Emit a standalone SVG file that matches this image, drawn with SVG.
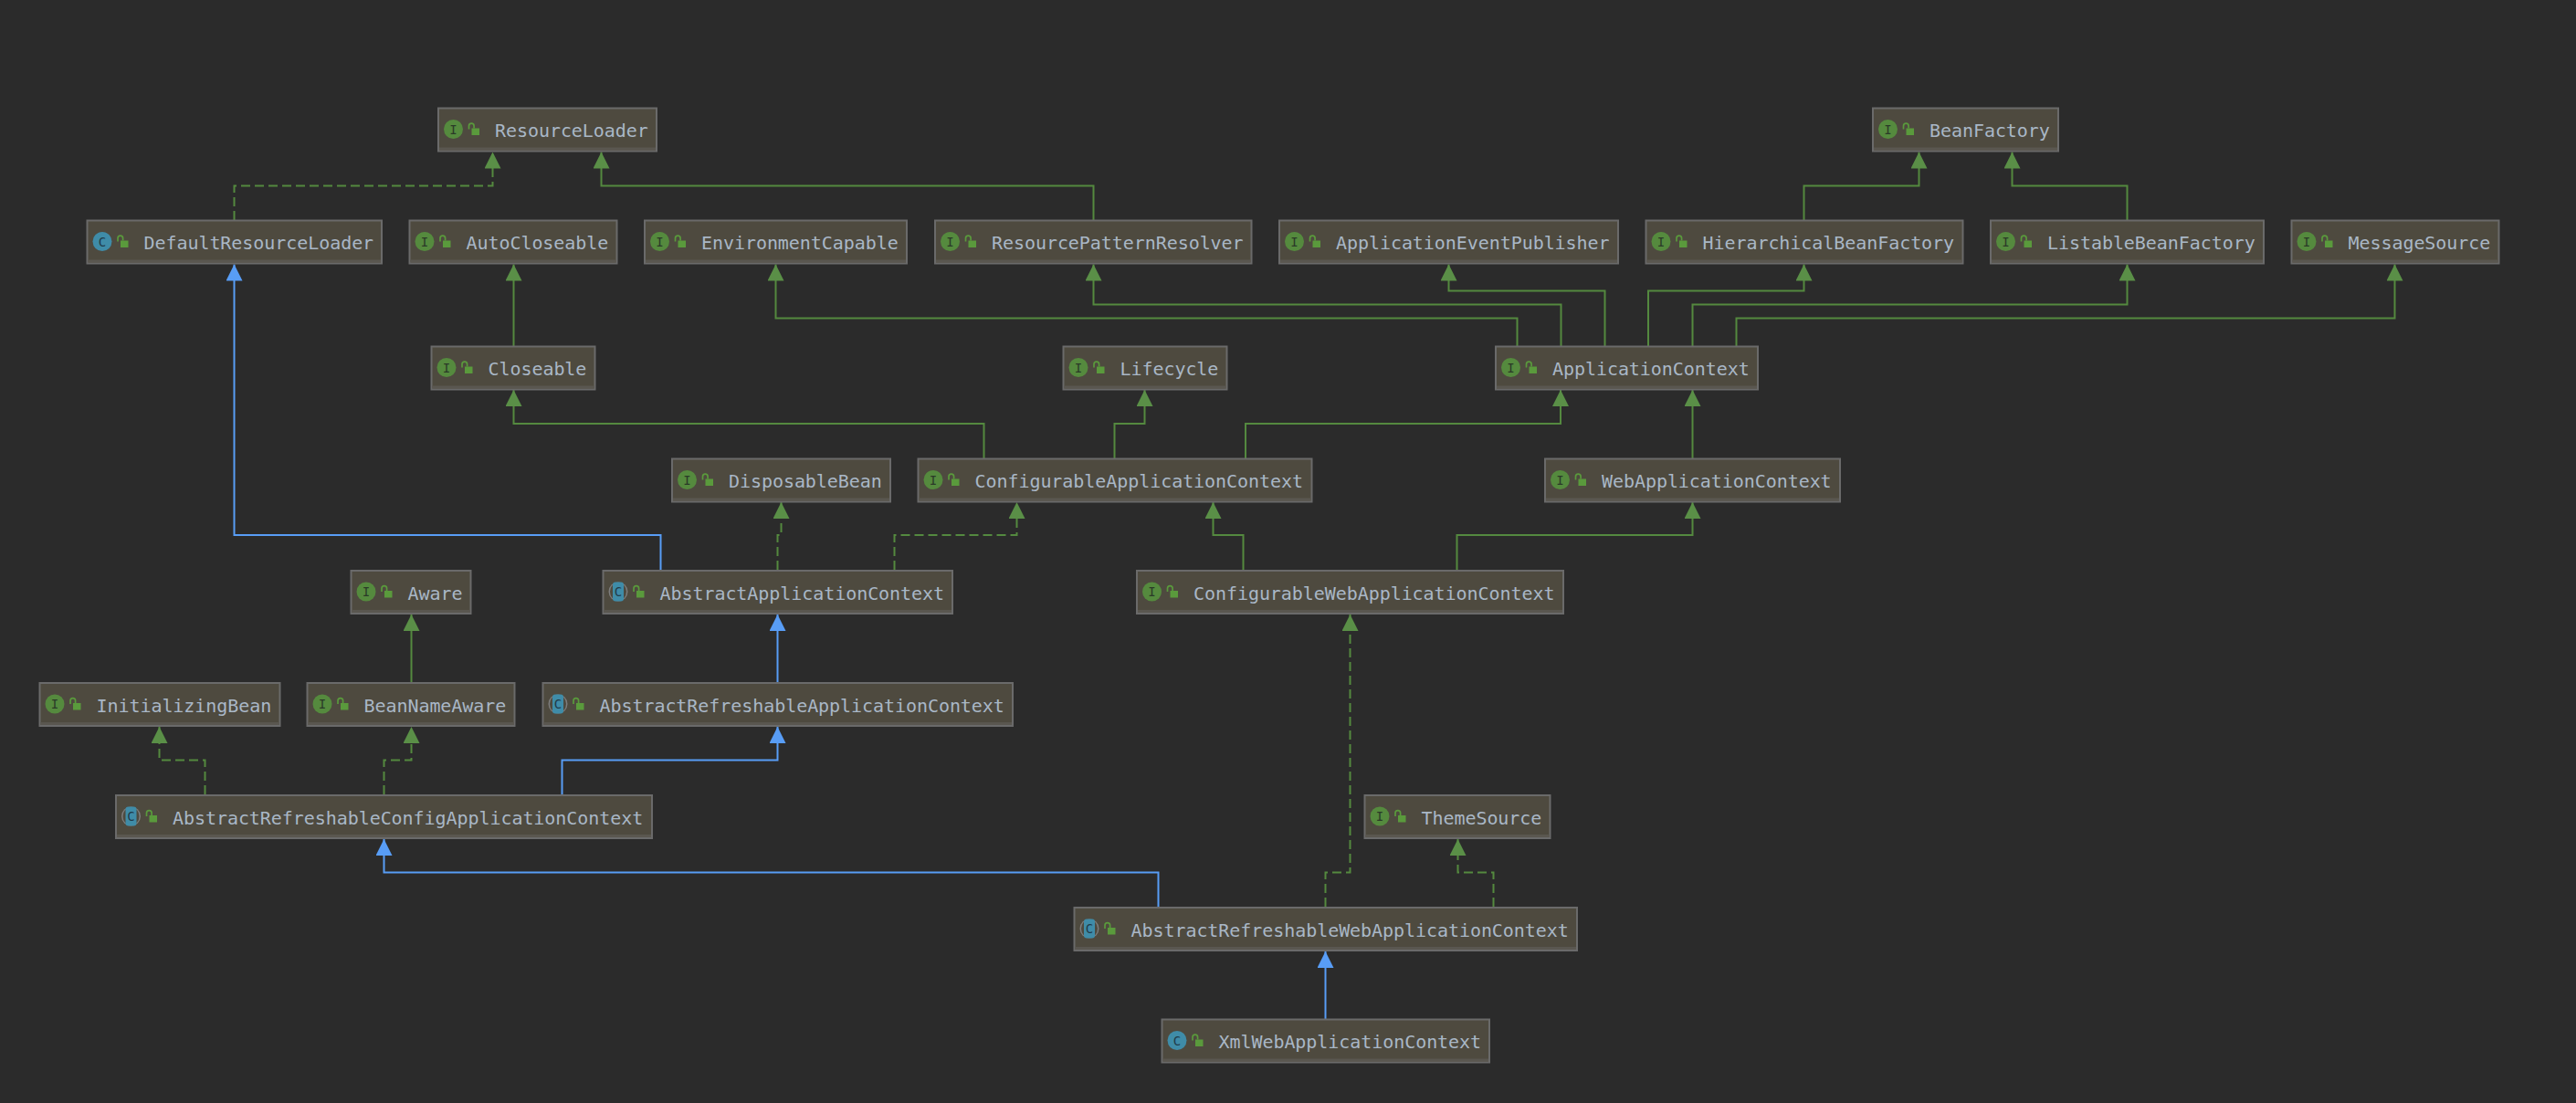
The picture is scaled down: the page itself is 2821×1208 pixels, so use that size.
<svg xmlns="http://www.w3.org/2000/svg" xmlns:xlink="http://www.w3.org/1999/xlink" width="2821" height="1208" viewBox="0 0 2821 1208">
<style>
.box{fill:#4e4a3f;stroke:#6a6a6a;stroke-width:2}
.band{fill:#5a5750}
.t{font-family:"DejaVu Sans Mono","Liberation Mono",monospace;font-size:20px;letter-spacing:-0.06px;fill:#a9b7c6}
.g{font-family:"DejaVu Sans Mono","Liberation Mono",monospace;font-size:14px;fill:#2b3a28;text-anchor:middle}
.c{fill:#1f3a48}
.e{fill:none;stroke-width:2}
.sg{stroke:#54893f}
.db{stroke:#589df6}
.ds{stroke-dasharray:10 5}
</style>
<defs>
<marker id="ag" markerUnits="userSpaceOnUse" markerWidth="18" markerHeight="18" viewBox="0 0 18 18" refX="18" refY="9" orient="auto"><path d="M0 0L18 9L0 18Z" fill="#5a8f47"/></marker>
<marker id="ab" markerUnits="userSpaceOnUse" markerWidth="18" markerHeight="18" viewBox="0 0 18 18" refX="18" refY="9" orient="auto"><path d="M0 0L18 9L0 18Z" fill="#589df6"/></marker>
<g id="lock"><path d="M33.5 23v-3.5a2.8 2.8 0 0 1 5.6 0v2.5" fill="none" stroke="#5a9a3c" stroke-width="1.7"/><rect x="36.5" y="22" width="8.5" height="7.5" fill="#5a9a3c"/></g>
<circle id="ii" cx="16.5" cy="23" r="10.5" fill="#558a3e"/>
<circle id="ic" cx="16.5" cy="23" r="10.5" fill="#3f8ca8"/>
<g id="ia"><circle cx="16.5" cy="23" r="10.5" fill="#7d7d7d"/><ellipse cx="16.5" cy="23" rx="9" ry="10" fill="#4e4a3f"/><rect x="10.5" y="12.5" width="12" height="21" rx="3" fill="#3f8ca8"/></g>
</defs>
<rect width="2821" height="1208" fill="#2b2b2b"/>
<g id="connectors">
<path class="e sg ds" marker-end="url(#ag)" d="M256.5 241V203.5H539.5V166.5"/>
<path class="e sg" marker-end="url(#ag)" d="M1197.5 241V203.5H658.5V166.5"/>
<path class="e sg" marker-end="url(#ag)" d="M562.5 379V289.5"/>
<path class="e sg" marker-end="url(#ag)" d="M1077.5 502V464H562.5V427"/>
<path class="e sg" marker-end="url(#ag)" d="M1220.5 502V464H1253.5V427"/>
<path class="e sg" marker-end="url(#ag)" d="M1364 502V464H1709V427"/>
<path class="e sg" marker-end="url(#ag)" d="M1853.5 502V427"/>
<path class="e sg" marker-end="url(#ag)" d="M1661.5 379V348.5H849.5V289.5"/>
<path class="e sg" marker-end="url(#ag)" d="M1709.5 379V333.5H1197.5V289.5"/>
<path class="e sg" marker-end="url(#ag)" d="M1757.5 379V318.5H1586.5V289.5"/>
<path class="e sg" marker-end="url(#ag)" d="M1805 379V318.5H1975.5V289.5"/>
<path class="e sg" marker-end="url(#ag)" d="M1853.5 379V333.5H2329.5V289.5"/>
<path class="e sg" marker-end="url(#ag)" d="M1901.5 379V348.5H2622.5V289.5"/>
<path class="e sg" marker-end="url(#ag)" d="M1975.5 241V203.5H2101.5V166.5"/>
<path class="e sg" marker-end="url(#ag)" d="M2329.5 241V203.5H2203.5V166.5"/>
<path class="e db" marker-end="url(#ab)" d="M723.5 624V586H256.5V289.5"/>
<path class="e sg ds" marker-end="url(#ag)" d="M851.5 624V586H855.5V550"/>
<path class="e sg ds" marker-end="url(#ag)" d="M979.5 624V586H1113.5V550"/>
<path class="e sg" marker-end="url(#ag)" d="M1361.5 624V586H1328.5V550"/>
<path class="e sg" marker-end="url(#ag)" d="M1595.5 624V586H1853.5V550"/>
<path class="e db" marker-end="url(#ab)" d="M851.5 747V673"/>
<path class="e db" marker-end="url(#ab)" d="M615.5 870V832.5H851.5V796"/>
<path class="e sg ds" marker-end="url(#ag)" d="M224.5 870V832.5H174.5V796"/>
<path class="e sg ds" marker-end="url(#ag)" d="M420.5 870V832.5H450.5V796"/>
<path class="e sg" marker-end="url(#ag)" d="M450.5 747V673"/>
<path class="e db" marker-end="url(#ab)" d="M1268.5 993V955.5H420.5V919"/>
<path class="e sg ds" marker-end="url(#ag)" d="M1451.5 993V955.5H1478.5V673"/>
<path class="e sg ds" marker-end="url(#ag)" d="M1635.5 993V955.5H1596.5V919"/>
<path class="e db" marker-end="url(#ab)" d="M1451.5 1116V1042"/>
</g>
<g id="ResourceLoader" transform="translate(480,118.5)"><rect class="box" width="239" height="47"/><rect class="band" x="1" y="43" width="237" height="3"/><use href="#ii"/><text class="g" x="16.5" y="28">I</text><use href="#lock"/><text class="t" x="62" y="31.5">ResourceLoader</text></g>
<g id="BeanFactory" transform="translate(2051,118.5)"><rect class="box" width="203" height="47"/><rect class="band" x="1" y="43" width="201" height="3"/><use href="#ii"/><text class="g" x="16.5" y="28">I</text><use href="#lock"/><text class="t" x="62" y="31.5">BeanFactory</text></g>
<g id="DefaultResourceLoader" transform="translate(95.5,241.5)"><rect class="box" width="322.5" height="47"/><rect class="band" x="1" y="43" width="320.5" height="3"/><use href="#ic"/><text class="g c" x="16.5" y="28">C</text><use href="#lock"/><text class="t" x="62" y="31.5">DefaultResourceLoader</text></g>
<g id="AutoCloseable" transform="translate(448.5,241.5)"><rect class="box" width="227" height="47"/><rect class="band" x="1" y="43" width="225" height="3"/><use href="#ii"/><text class="g" x="16.5" y="28">I</text><use href="#lock"/><text class="t" x="62" y="31.5">AutoCloseable</text></g>
<g id="EnvironmentCapable" transform="translate(706,241.5)"><rect class="box" width="287" height="47"/><rect class="band" x="1" y="43" width="285" height="3"/><use href="#ii"/><text class="g" x="16.5" y="28">I</text><use href="#lock"/><text class="t" x="62" y="31.5">EnvironmentCapable</text></g>
<g id="ResourcePatternResolver" transform="translate(1024,241.5)"><rect class="box" width="346.5" height="47"/><rect class="band" x="1" y="43" width="344.5" height="3"/><use href="#ii"/><text class="g" x="16.5" y="28">I</text><use href="#lock"/><text class="t" x="62" y="31.5">ResourcePatternResolver</text></g>
<g id="ApplicationEventPublisher" transform="translate(1401,241.5)"><rect class="box" width="371" height="47"/><rect class="band" x="1" y="43" width="369" height="3"/><use href="#ii"/><text class="g" x="16.5" y="28">I</text><use href="#lock"/><text class="t" x="62" y="31.5">ApplicationEventPublisher</text></g>
<g id="HierarchicalBeanFactory" transform="translate(1802.5,241.5)"><rect class="box" width="347" height="47"/><rect class="band" x="1" y="43" width="345" height="3"/><use href="#ii"/><text class="g" x="16.5" y="28">I</text><use href="#lock"/><text class="t" x="62" y="31.5">HierarchicalBeanFactory</text></g>
<g id="ListableBeanFactory" transform="translate(2180,241.5)"><rect class="box" width="299" height="47"/><rect class="band" x="1" y="43" width="297" height="3"/><use href="#ii"/><text class="g" x="16.5" y="28">I</text><use href="#lock"/><text class="t" x="62" y="31.5">ListableBeanFactory</text></g>
<g id="MessageSource" transform="translate(2509.5,241.5)"><rect class="box" width="227" height="47"/><rect class="band" x="1" y="43" width="225" height="3"/><use href="#ii"/><text class="g" x="16.5" y="28">I</text><use href="#lock"/><text class="t" x="62" y="31.5">MessageSource</text></g>
<g id="Closeable" transform="translate(472.5,379.5)"><rect class="box" width="179" height="47"/><rect class="band" x="1" y="43" width="177" height="3"/><use href="#ii"/><text class="g" x="16.5" y="28">I</text><use href="#lock"/><text class="t" x="62" y="31.5">Closeable</text></g>
<g id="Lifecycle" transform="translate(1164.5,379.5)"><rect class="box" width="179" height="47"/><rect class="band" x="1" y="43" width="177" height="3"/><use href="#ii"/><text class="g" x="16.5" y="28">I</text><use href="#lock"/><text class="t" x="62" y="31.5">Lifecycle</text></g>
<g id="ApplicationContext" transform="translate(1638,379.5)"><rect class="box" width="287" height="47"/><rect class="band" x="1" y="43" width="285" height="3"/><use href="#ii"/><text class="g" x="16.5" y="28">I</text><use href="#lock"/><text class="t" x="62" y="31.5">ApplicationContext</text></g>
<g id="DisposableBean" transform="translate(736,502.5)"><rect class="box" width="239" height="47"/><rect class="band" x="1" y="43" width="237" height="3"/><use href="#ii"/><text class="g" x="16.5" y="28">I</text><use href="#lock"/><text class="t" x="62" y="31.5">DisposableBean</text></g>
<g id="ConfigurableApplicationContext" transform="translate(1005.5,502.5)"><rect class="box" width="431" height="47"/><rect class="band" x="1" y="43" width="429" height="3"/><use href="#ii"/><text class="g" x="16.5" y="28">I</text><use href="#lock"/><text class="t" x="62" y="31.5">ConfigurableApplicationContext</text></g>
<g id="WebApplicationContext" transform="translate(1692,502.5)"><rect class="box" width="323" height="47"/><rect class="band" x="1" y="43" width="321" height="3"/><use href="#ii"/><text class="g" x="16.5" y="28">I</text><use href="#lock"/><text class="t" x="62" y="31.5">WebApplicationContext</text></g>
<g id="Aware" transform="translate(384.5,625)"><rect class="box" width="131" height="47"/><rect class="band" x="1" y="43" width="129" height="3"/><use href="#ii"/><text class="g" x="16.5" y="28">I</text><use href="#lock"/><text class="t" x="62" y="31.5">Aware</text></g>
<g id="AbstractApplicationContext" transform="translate(660.5,625)"><rect class="box" width="382.5" height="47"/><rect class="band" x="1" y="43" width="380.5" height="3"/><use href="#ia"/><text class="g c" x="16.5" y="28">C</text><use href="#lock"/><text class="t" x="62" y="31.5">AbstractApplicationContext</text></g>
<g id="ConfigurableWebApplicationContext" transform="translate(1245,625)"><rect class="box" width="467" height="47"/><rect class="band" x="1" y="43" width="465" height="3"/><use href="#ii"/><text class="g" x="16.5" y="28">I</text><use href="#lock"/><text class="t" x="62" y="31.5">ConfigurableWebApplicationContext</text></g>
<g id="InitializingBean" transform="translate(43.5,748)"><rect class="box" width="263" height="47"/><rect class="band" x="1" y="43" width="261" height="3"/><use href="#ii"/><text class="g" x="16.5" y="28">I</text><use href="#lock"/><text class="t" x="62" y="31.5">InitializingBean</text></g>
<g id="BeanNameAware" transform="translate(336.5,748)"><rect class="box" width="227" height="47"/><rect class="band" x="1" y="43" width="225" height="3"/><use href="#ii"/><text class="g" x="16.5" y="28">I</text><use href="#lock"/><text class="t" x="62" y="31.5">BeanNameAware</text></g>
<g id="AbstractRefreshableApplicationContext" transform="translate(594.5,748)"><rect class="box" width="514.5" height="47"/><rect class="band" x="1" y="43" width="512.5" height="3"/><use href="#ia"/><text class="g c" x="16.5" y="28">C</text><use href="#lock"/><text class="t" x="62" y="31.5">AbstractRefreshableApplicationContext</text></g>
<g id="AbstractRefreshableConfigApplicationContext" transform="translate(127,871)"><rect class="box" width="587" height="47"/><rect class="band" x="1" y="43" width="585" height="3"/><use href="#ia"/><text class="g c" x="16.5" y="28">C</text><use href="#lock"/><text class="t" x="62" y="31.5">AbstractRefreshableConfigApplicationContext</text></g>
<g id="ThemeSource" transform="translate(1494.5,871)"><rect class="box" width="203" height="47"/><rect class="band" x="1" y="43" width="201" height="3"/><use href="#ii"/><text class="g" x="16.5" y="28">I</text><use href="#lock"/><text class="t" x="62" y="31.5">ThemeSource</text></g>
<g id="AbstractRefreshableWebApplicationContext" transform="translate(1176.5,994)"><rect class="box" width="550.5" height="47"/><rect class="band" x="1" y="43" width="548.5" height="3"/><use href="#ia"/><text class="g c" x="16.5" y="28">C</text><use href="#lock"/><text class="t" x="62" y="31.5">AbstractRefreshableWebApplicationContext</text></g>
<g id="XmlWebApplicationContext" transform="translate(1272.5,1116.5)"><rect class="box" width="358.5" height="47"/><rect class="band" x="1" y="43" width="356.5" height="3"/><use href="#ic"/><text class="g c" x="16.5" y="28">C</text><use href="#lock"/><text class="t" x="62" y="31.5">XmlWebApplicationContext</text></g>
</svg>
